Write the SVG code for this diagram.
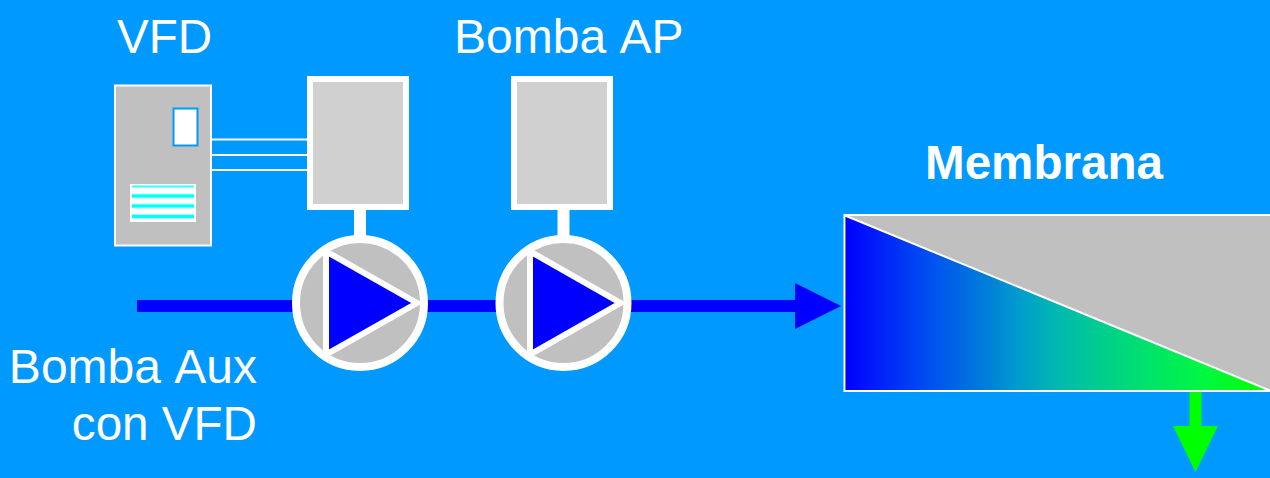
<svg xmlns="http://www.w3.org/2000/svg" width="1270" height="478" viewBox="0 0 1270 478">
<style>
text{font-family:"Liberation Sans",Arial,sans-serif;font-size:47.6px;fill:#fff;font-kerning:none}
.wide{font-size:48px}
.motor{fill:#d0d0d0;stroke:#fff;stroke-width:6}
.shaft{fill:#fff}
.casing{fill:#c0c0c0;stroke:#fff;stroke-width:8}
.rotor{fill:#00f;stroke:#fff;stroke-width:6;stroke-linejoin:miter}
.wire{stroke:#fff;stroke-width:2;fill:none}
.scr{stroke:#0ff;stroke-width:3;fill:none}
.halo{stroke:#a8ffff;stroke-width:5;fill:none}
</style>
<defs>
<linearGradient id="g" gradientUnits="userSpaceOnUse" x1="845" y1="0" x2="1268" y2="0">
<stop offset="0" stop-color="#00f"/>
<stop offset="0.2" stop-color="#0050f0"/>
<stop offset="0.34" stop-color="#0080d8"/>
<stop offset="0.4" stop-color="#0098d0"/>
<stop offset="0.5" stop-color="#00b8b0"/>
<stop offset="0.7" stop-color="#00e070"/>
<stop offset="0.85" stop-color="#00f840"/>
<stop offset="1" stop-color="#0f0"/>
</linearGradient>
</defs>
<rect width="1270" height="478" fill="#09f"/>
<g id="connectors">
<rect x="137" y="300" width="659" height="12" fill="#00f"/>
<polygon points="795,283 841,306 795,329" fill="#00f"/>
<rect x="1189.5" y="392" width="12" height="35" fill="#0f0"/>
<polygon points="1173,426 1218,426 1195.5,472" fill="#0f0"/>
<path class="wire" d="M211 139.5H308M211 155H308M211 170H308"/>
</g>
<g id="vfd">
<rect x="115" y="85.5" width="96" height="160" fill="#c0c0c0" stroke="#fff" stroke-width="2"/>
<rect x="173.5" y="108.500" width="24" height="37" fill="#fff" stroke="#09f" stroke-width="2"/>
<rect x="130" y="184" width="66" height="38" fill="#fff"/>
<path class="halo" d="M132 196H194M132 206H194M132 216.500H194"/>
<path class="scr" d="M132 196H194M132 206H194M132 216.500H194"/>
<path class="scr" style="stroke-width:2;stroke:#30ffff" d="M132 186.500H194"/>
</g>
<g id="motor1">
<rect class="shaft" x="354" y="208" width="12" height="32"/>
<rect class="motor" x="310" y="79" width="96" height="128"/>
</g>
<g id="motor2">
<rect class="shaft" x="557.500" y="208" width="12" height="32"/>
<rect class="motor" x="514" y="79" width="96" height="128"/>
</g>
<g id="pump1">
<circle class="casing" cx="360" cy="303" r="64"/>
<polygon class="rotor" points="326,251.400 417,303 326,354.600"/>
</g>
<g id="pump2">
<circle class="casing" cx="563.500" cy="303" r="64"/>
<polygon class="rotor" points="530,251.400 620.500,303 530,354.600"/>
</g>
<g id="membrana">
<rect x="844.500" y="215" width="430" height="176" fill="#c0c0c0" stroke="#fff" stroke-width="2"/>
<polygon points="845.500,216 1268,390 845.500,390" fill="url(#g)"/>
<line class="wire" x1="845" y1="215.500" x2="1270" y2="390.500"/>
</g>
<g id="labels">
<text x="117" y="53">VFD</text>
<text class="wide" x="454" y="53">Bomba AP</text>
<text x="925" y="179" font-weight="700">Membrana</text>
<text class="wide" x="257" y="383" text-anchor="end">Bomba Aux</text>
<text x="257" y="440" text-anchor="end">con VFD</text>
</g>
</svg>
